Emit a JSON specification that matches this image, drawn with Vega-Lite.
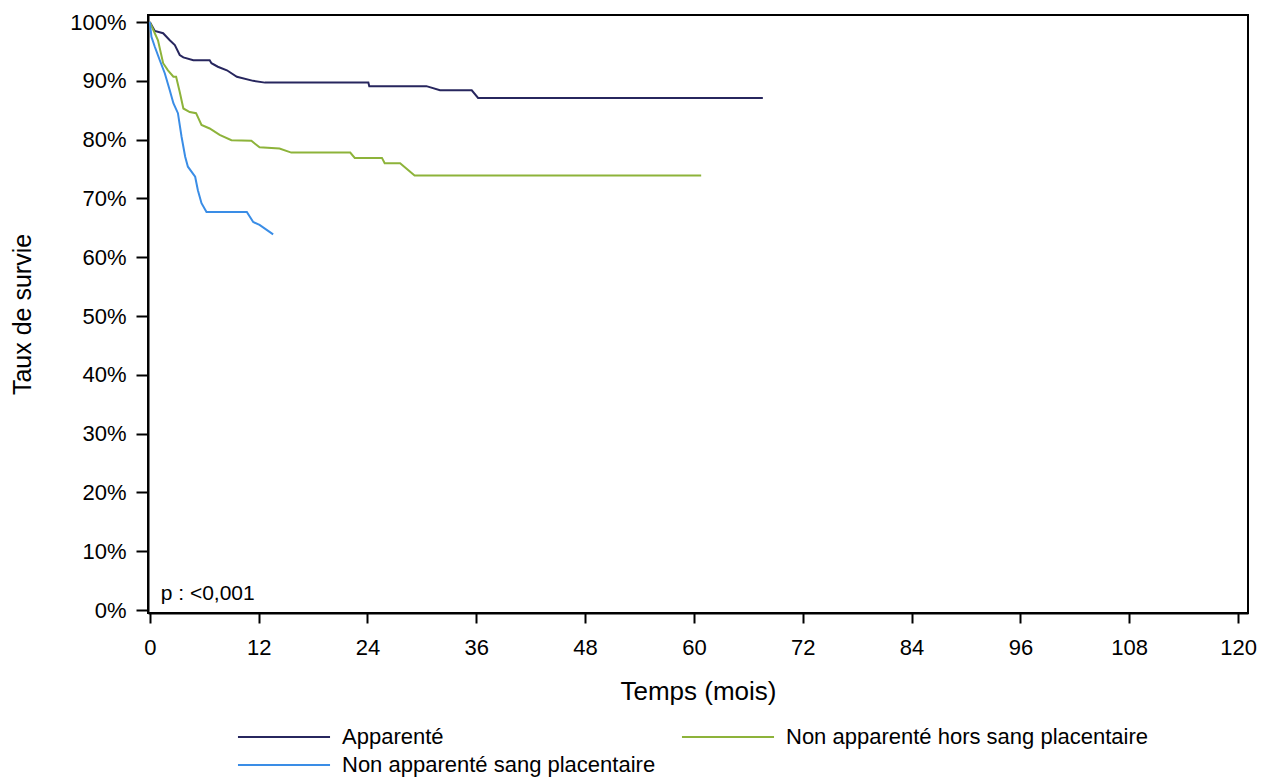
{
  "$schema": "https://vega.github.io/schema/vega-lite/v6.json",
  "width": 1100,
  "height": 598,
  "autosize": {"type": "none"},
  "padding": {"left": 148, "top": 15, "right": 13, "bottom": 165},
  "background": "white",
  "config": {
    "font": "Liberation Sans",
    "view": {"stroke": "black", "strokeWidth": 2},
    "axis": {"labelColor": "#000", "titleColor": "#000", "domainColor": "#000", "tickColor": "#000", "grid": false, "labelFontSize": 22, "titleFontSize": 26, "titleFontWeight": "normal", "domainWidth": 2, "tickWidth": 2}
  },
  "datasets": {
    "curves": [
      {"g": "Apparenté", "t": 0, "s": 1.0},
      {"g": "Apparenté", "t": 0.55, "s": 0.985},
      {"g": "Apparenté", "t": 1.47, "s": 0.981},
      {"g": "Apparenté", "t": 2.2, "s": 0.969},
      {"g": "Apparenté", "t": 2.76, "s": 0.961},
      {"g": "Apparenté", "t": 3.3, "s": 0.944},
      {"g": "Apparenté", "t": 3.7, "s": 0.94},
      {"g": "Apparenté", "t": 4.8, "s": 0.935},
      {"g": "Apparenté", "t": 6.6, "s": 0.935},
      {"g": "Apparenté", "t": 6.8, "s": 0.93},
      {"g": "Apparenté", "t": 7.5, "s": 0.924},
      {"g": "Apparenté", "t": 8.5, "s": 0.918},
      {"g": "Apparenté", "t": 9.6, "s": 0.907},
      {"g": "Apparenté", "t": 11.4, "s": 0.9},
      {"g": "Apparenté", "t": 12.7, "s": 0.897},
      {"g": "Apparenté", "t": 24.1, "s": 0.897},
      {"g": "Apparenté", "t": 24.2, "s": 0.891},
      {"g": "Apparenté", "t": 30.5, "s": 0.891},
      {"g": "Apparenté", "t": 32, "s": 0.884},
      {"g": "Apparenté", "t": 35.5, "s": 0.884},
      {"g": "Apparenté", "t": 36.2, "s": 0.871},
      {"g": "Apparenté", "t": 67.6, "s": 0.871},
      {"g": "Non apparenté hors sang placentaire", "t": 0, "s": 1.0},
      {"g": "Non apparenté hors sang placentaire", "t": 0.55, "s": 0.981},
      {"g": "Non apparenté hors sang placentaire", "t": 0.9, "s": 0.969},
      {"g": "Non apparenté hors sang placentaire", "t": 1.47, "s": 0.93},
      {"g": "Non apparenté hors sang placentaire", "t": 2.0, "s": 0.918},
      {"g": "Non apparenté hors sang placentaire", "t": 2.6, "s": 0.907},
      {"g": "Non apparenté hors sang placentaire", "t": 2.9, "s": 0.907},
      {"g": "Non apparenté hors sang placentaire", "t": 3.3, "s": 0.881},
      {"g": "Non apparenté hors sang placentaire", "t": 3.7, "s": 0.853},
      {"g": "Non apparenté hors sang placentaire", "t": 4.4, "s": 0.847},
      {"g": "Non apparenté hors sang placentaire", "t": 5.1, "s": 0.845},
      {"g": "Non apparenté hors sang placentaire", "t": 5.7, "s": 0.825},
      {"g": "Non apparenté hors sang placentaire", "t": 6.6, "s": 0.819},
      {"g": "Non apparenté hors sang placentaire", "t": 7.7, "s": 0.808},
      {"g": "Non apparenté hors sang placentaire", "t": 9.0, "s": 0.799},
      {"g": "Non apparenté hors sang placentaire", "t": 11.2, "s": 0.798},
      {"g": "Non apparenté hors sang placentaire", "t": 11.6, "s": 0.793},
      {"g": "Non apparenté hors sang placentaire", "t": 12.1, "s": 0.787},
      {"g": "Non apparenté hors sang placentaire", "t": 14.3, "s": 0.785},
      {"g": "Non apparenté hors sang placentaire", "t": 15.6, "s": 0.778},
      {"g": "Non apparenté hors sang placentaire", "t": 22.1, "s": 0.778},
      {"g": "Non apparenté hors sang placentaire", "t": 22.6, "s": 0.769},
      {"g": "Non apparenté hors sang placentaire", "t": 25.6, "s": 0.769},
      {"g": "Non apparenté hors sang placentaire", "t": 25.9, "s": 0.76},
      {"g": "Non apparenté hors sang placentaire", "t": 27.6, "s": 0.76},
      {"g": "Non apparenté hors sang placentaire", "t": 29.2, "s": 0.739},
      {"g": "Non apparenté hors sang placentaire", "t": 60.8, "s": 0.739},
      {"g": "Non apparenté sang placentaire", "t": 0, "s": 1.0},
      {"g": "Non apparenté sang placentaire", "t": 0.18, "s": 0.975},
      {"g": "Non apparenté sang placentaire", "t": 0.55, "s": 0.958},
      {"g": "Non apparenté sang placentaire", "t": 1.1, "s": 0.935},
      {"g": "Non apparenté sang placentaire", "t": 1.65, "s": 0.913},
      {"g": "Non apparenté sang placentaire", "t": 2.2, "s": 0.884},
      {"g": "Non apparenté sang placentaire", "t": 2.6, "s": 0.862},
      {"g": "Non apparenté sang placentaire", "t": 3.1, "s": 0.845},
      {"g": "Non apparenté sang placentaire", "t": 3.5, "s": 0.805},
      {"g": "Non apparenté sang placentaire", "t": 3.9, "s": 0.771},
      {"g": "Non apparenté sang placentaire", "t": 4.2, "s": 0.754},
      {"g": "Non apparenté sang placentaire", "t": 5.0, "s": 0.737},
      {"g": "Non apparenté sang placentaire", "t": 5.3, "s": 0.714},
      {"g": "Non apparenté sang placentaire", "t": 5.7, "s": 0.692},
      {"g": "Non apparenté sang placentaire", "t": 6.25, "s": 0.677},
      {"g": "Non apparenté sang placentaire", "t": 10.7, "s": 0.677},
      {"g": "Non apparenté sang placentaire", "t": 11.4, "s": 0.66},
      {"g": "Non apparenté sang placentaire", "t": 12.1, "s": 0.655},
      {"g": "Non apparenté sang placentaire", "t": 13.6, "s": 0.639}
    ],
    "note": [{"t": 1.2, "s": 0.027, "label": "p : <0,001"}]
  },
  "layer": [
    {
      "data": {"name": "curves"},
      "mark": {"type": "line", "strokeWidth": 2, "clip": true},
      "encoding": {
        "x": {"field": "t", "type": "quantitative", "title": "Temps (mois)",
          "scale": {"domain": [-0.2, 121.1], "nice": false, "zero": false},
          "axis": {"values": [0, 12, 24, 36, 48, 60, 72, 84, 96, 108, 120], "tickSize": 10, "labelPadding": 14, "titlePadding": 20, "labelFlush": false}},
        "y": {"field": "s", "type": "quantitative", "title": "Taux de survie",
          "scale": {"domain": [-0.005, 1.012], "nice": false, "zero": false},
          "axis": {"values": [0, 0.1, 0.2, 0.3, 0.4, 0.5, 0.6, 0.7, 0.8, 0.9, 1.0], "format": ".0%", "tickSize": 12, "labelPadding": 10, "titlePadding": 34, "titleFontSize": 25}},
        "color": {"field": "g", "type": "nominal", "title": null,
          "scale": {"domain": ["Apparenté", "Non apparenté hors sang placentaire", "Non apparenté sang placentaire"], "range": ["#27265e", "#8db33a", "#3a8de6"]},
          "legend": {"orient": "none", "legendX": 89, "legendY": 711, "direction": "horizontal", "columns": 2, "columnPadding": 21, "rowPadding": 6, "padding": 0, "symbolType": "M-5,0H5", "symbolSize": 339, "symbolStrokeWidth": 2, "symbolOffset": 36, "labelFontSize": 22, "labelColor": "#000", "labelOffset": 47, "labelLimit": 500}},
        "order": {"field": "t", "type": "quantitative"}
      }
    },
    {
      "data": {"name": "note"},
      "mark": {"type": "text", "align": "left", "baseline": "middle", "fontSize": 21, "color": "#000"},
      "encoding": {
        "x": {"field": "t", "type": "quantitative"},
        "y": {"field": "s", "type": "quantitative"},
        "text": {"field": "label"}
      }
    }
  ]
}
